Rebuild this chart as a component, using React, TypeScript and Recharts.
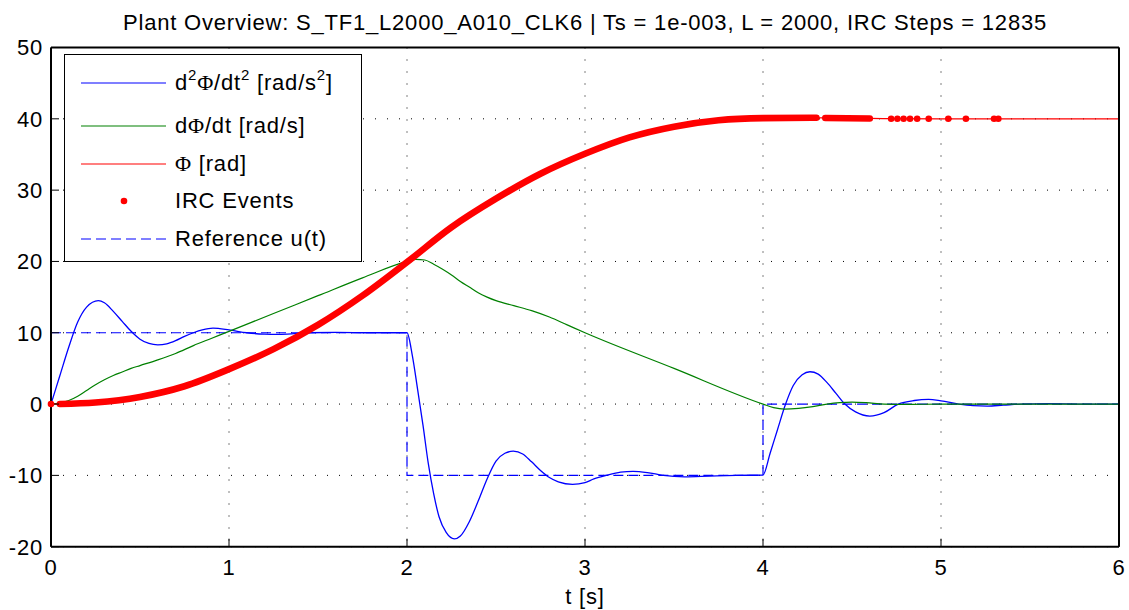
import React from "react";
import {
  ComposedChart,
  Line,
  Scatter,
  XAxis,
  YAxis,
  CartesianGrid,
  Legend,
} from "recharts";

// plant response, values
const accT = [0, 0.05, 0.1, 0.15, 0.2, 0.266, 0.3, 0.35, 0.4, 0.45, 0.5, 0.55, 0.6, 0.65, 0.7, 0.75, 0.8, 0.85, 0.91, 1.0, 1.1, 1.2, 1.27, 1.35, 1.45, 1.6, 1.8, 2.0, 2.03, 2.06, 2.09, 2.12, 2.15, 2.18, 2.22, 2.266, 2.3, 2.35, 2.4, 2.45, 2.5, 2.55, 2.597, 2.65, 2.7, 2.75, 2.8, 2.85, 2.93, 3.0, 3.05, 3.12, 3.2, 3.27, 3.35, 3.44, 3.56, 3.7, 3.85, 4.0, 4.04, 4.08, 4.127, 4.17, 4.22, 4.264, 4.31, 4.36, 4.41, 4.46, 4.52, 4.6, 4.68, 4.76, 4.85, 4.93, 5.0, 5.1, 5.18, 5.26, 5.35, 5.45, 5.6, 5.8, 6.0];
const accV = [0, 4.0, 8.0, 11.5, 13.6, 14.5, 14.2, 13.0, 11.6, 10.2, 9.1, 8.5, 8.3, 8.45, 8.9, 9.5, 10.0, 10.4, 10.64, 10.4, 10.0, 9.8, 9.76, 9.85, 10.0, 10.05, 10.0, 10.0, 6.8, 2.0, -3.0, -8.4, -12.6, -15.8, -18.0, -18.9, -18.5, -16.5, -13.6, -10.5, -8.0, -6.9, -6.6, -7.0, -8.1, -9.3, -10.3, -10.9, -11.25, -11.0, -10.5, -10.0, -9.55, -9.43, -9.6, -10.0, -10.2, -10.1, -10.0, -9.95, -6.9, -3.7, 0, 2.6, 4.1, 4.53, 4.2, 3.0, 1.5, 0, -1.1, -1.68, -1.2, 0, 0.5, 0.65, 0.45, 0, -0.22, -0.28, -0.15, 0, 0.05, 0, 0];

const velT = [0, 0.05, 0.1, 0.15, 0.2, 0.25, 0.3, 0.35, 0.4, 0.45, 0.5, 0.6, 0.7, 0.8, 0.9, 1.0, 1.25, 1.5, 1.75, 2.0, 2.05, 2.1, 2.15, 2.2, 2.25, 2.3, 2.35, 2.4, 2.45, 2.5, 2.6, 2.7, 2.8, 2.9, 3.0, 3.5, 4.0, 4.06, 4.12, 4.2, 4.28, 4.36, 4.43, 4.5, 4.58, 4.68, 4.8, 5.0, 6.0];
const velV = [0, 0.15, 0.5, 1.1, 1.9, 2.7, 3.4, 4.0, 4.5, 5.0, 5.4, 6.2, 7.1, 8.2, 9.2, 10.2, 12.7, 15.2, 17.7, 20.0, 20.3, 20.2, 19.6, 18.9, 18.1, 17.2, 16.4, 15.6, 15.0, 14.5, 13.8, 13.1, 12.2, 11.1, 10.0, 5.0, 0, -0.5, -0.7, -0.6, -0.35, 0, 0.2, 0.28, 0.2, 0, -0.05, 0, 0];

const phiT = [0, 0.05, 0.25, 0.5, 0.75, 1.0, 1.25, 1.5, 1.75, 2.0, 2.25, 2.5, 2.75, 3.0, 3.25, 3.5, 3.75, 4.0, 4.3, 4.35, 4.6, 5.0, 6.0];
const phiV = [0, 0.01, 0.22, 1.0, 2.5, 4.9, 7.7, 11.1, 15.2, 19.9, 24.8, 28.8, 32.3, 35.1, 37.4, 38.9, 39.8, 40.1, 40.15, 40.12, 40.05, 40.0, 40.0];

// time windows where IRC events are so dense they merge into a band
const ircDense = [
  [0.05, 4.3],
  [4.35, 4.6],
];
// isolated IRC events
const ircT = [0, 4.72, 4.755, 4.79, 4.826, 4.866, 4.931, 5.041, 5.14, 5.298, 5.322];
const ircV = [0, 40, 40, 40, 40, 40, 40, 40, 40, 40, 40];

const refT = [0, 2, 2, 4, 4, 6];
const refV = [10, 10, -10, -10, 0, 0];

const xTicks = [0, 1, 2, 3, 4, 5, 6];
const yTicks = [-20, -10, 0, 10, 20, 30, 40, 50];

const title =
  "Plant Overview: S_TF1_L2000_A010_CLK6 | Ts = 1e-003, L = 2000, IRC Steps = 12835";

const zip = (ts: number[], vs: number[], key: string) =>
  ts.map((t, i) => ({ t, [key]: vs[i] }));

const accData = zip(accT, accV, "acc");
const velData = zip(velT, velV, "vel");
const phiData = zip(phiT, phiV, "phi");
const bandData = ircDense.map(([a, b]) =>
  zip(phiT, phiV, "band").filter((d) => d.t >= a && d.t <= b)
);
const ircData = zip(ircT, ircV, "irc");
const refData = zip(refT, refV, "ref");

const FONT = '"Liberation Sans", Arial, Helvetica, sans-serif';
const SERIF = '"Liberation Serif", "Times New Roman", serif';
const FS = 22;
const LS = 0.8;

const Phi = () => <span style={{ fontFamily: SERIF }}>Φ</span>;
const Sup = ({ children }: { children: React.ReactNode }) => (
  <span style={{ fontSize: 15, position: "relative", top: -10 }}>{children}</span>
);

const legendRows = [
  { top: 28, color: "#0000ff", kind: "solid", label: <>d<Sup>2</Sup><Phi />/dt<Sup>2</Sup> [rad/s<Sup>2</Sup>]</> },
  { top: 71, color: "#008000", kind: "solid", label: <>d<Phi />/dt [rad/s]</> },
  { top: 109, color: "#ff0000", kind: "solid", label: <><Phi /> [rad]</> },
  { top: 146, color: "#ff0000", kind: "dot", label: <>IRC Events</> },
  { top: 184, color: "#0000ff", kind: "dash", label: <>Reference u(t)</> },
];

const LegendBox = () => (
  <div
    style={{
      position: "relative",
      width: 298,
      height: 208,
      boxSizing: "border-box",
      border: "1.5px solid #000",
      background: "#fff",
      fontFamily: FONT,
      fontSize: FS,
      letterSpacing: LS,
      color: "#000",
    }}
  >
    {legendRows.map((r, i) => (
      <div key={i} style={{ position: "absolute", left: 0, top: r.top - 14, height: 28, width: "100%" }}>
        <svg width={110} height={28} style={{ position: "absolute", left: 0, top: 0 }}>
          {r.kind === "dot" ? (
            <circle cx={59} cy={14} r={3.3} fill={r.color} />
          ) : (
            <line
              x1={16}
              x2={101}
              y1={14}
              y2={14}
              stroke={r.color}
              strokeWidth={1.2}
              strokeDasharray={r.kind === "dash" ? "10 5" : undefined}
            />
          )}
        </svg>
        <div style={{ position: "absolute", left: 110, top: 0, lineHeight: "28px", whiteSpace: "nowrap" }}>
          {r.label}
        </div>
      </div>
    ))}
  </div>
);

const tickStyle = { fill: "#000", fontSize: FS, fontFamily: FONT, letterSpacing: LS };

export default function App() {
  return (
    <div
      style={{
        position: "absolute",
        left: 0,
        top: 0,
        width: 1129,
        height: 610,
        background: "#fff",
        fontFamily: FONT,
      }}
    >
      <div
        style={{
          position: "absolute",
          left: 51,
          width: 1068,
          top: 9.5,
          lineHeight: "26px",
          fontSize: FS,
          letterSpacing: LS,
          textAlign: "center",
          color: "#000",
          whiteSpace: "nowrap",
          zIndex: 2,
        }}
      >
        {title}
      </div>
      <ComposedChart
        width={1129}
        height={610}
        margin={{ top: 17.5, right: 0, bottom: 0, left: 0 }}
      >
        <CartesianGrid stroke="#000" strokeDasharray="1 11" strokeWidth={1} />
        <XAxis
          xAxisId={0}
          dataKey="t"
          type="number"
          domain={[0, 6]}
          ticks={xTicks}
          height={63.3}
          axisLine={{ stroke: "#000", strokeWidth: 2 }}
          tickLine={{ stroke: "#000", strokeWidth: 1 }}
          tickSize={-8}
          tickMargin={21}
          tick={tickStyle}
          label={{ value: "t [s]", position: "insideBottom", offset: 6, fill: "#000", fontSize: FS, fontFamily: FONT, letterSpacing: LS }}
        />
        <XAxis
          xAxisId="top"
          orientation="top"
          dataKey="t"
          type="number"
          domain={[0, 6]}
          ticks={xTicks}
          height={30}
          axisLine={{ stroke: "#000", strokeWidth: 2 }}
          tickLine={{ stroke: "#000", strokeWidth: 1 }}
          tickSize={-8}
          tick={false}
        />
        <YAxis
          yAxisId={0}
          type="number"
          domain={[-20, 50]}
          ticks={yTicks}
          width={51}
          axisLine={{ stroke: "#000", strokeWidth: 2 }}
          tickLine={{ stroke: "#000", strokeWidth: 1 }}
          tickSize={-8}
          tickMargin={16}
          tick={tickStyle}
        />
        <YAxis
          yAxisId="right"
          orientation="right"
          type="number"
          domain={[-20, 50]}
          ticks={yTicks}
          width={10}
          axisLine={{ stroke: "#000", strokeWidth: 2 }}
          tickLine={{ stroke: "#000", strokeWidth: 1 }}
          tickSize={-8}
          tick={false}
        />
        <Line
          data={refData}
          dataKey="ref"
          type="linear"
          stroke="#0000ff"
          strokeWidth={1.2}
          strokeDasharray="10 5"
          dot={false}
          activeDot={false}
          isAnimationActive={false}
        />
        <Line
          data={accData}
          dataKey="acc"
          type="monotone"
          stroke="#0000ff"
          strokeWidth={1.3}
          dot={false}
          activeDot={false}
          isAnimationActive={false}
        />
        <Line
          data={velData}
          dataKey="vel"
          type="monotone"
          stroke="#008000"
          strokeWidth={1.2}
          dot={false}
          activeDot={false}
          isAnimationActive={false}
        />
        <Line
          data={phiData}
          dataKey="phi"
          type="monotone"
          stroke="#ff0000"
          strokeWidth={1.2}
          dot={false}
          activeDot={false}
          isAnimationActive={false}
        />
        {bandData.map((d, i) => (
          <Line
            key={"band" + i}
            data={d}
            dataKey="band"
            type="monotone"
            stroke="#ff0000"
            strokeWidth={6.6}
            strokeLinecap="round"
            dot={false}
            activeDot={false}
            isAnimationActive={false}
          />
        ))}
        <Scatter
          data={ircData}
          dataKey="irc"
          fill="#ff0000"
          isAnimationActive={false}
          shape={(p: any) => <circle cx={p.cx} cy={p.cy} r={3.3} fill="#ff0000" />}
        />
        <Legend
          layout="horizontal"
          verticalAlign="middle"
          align="center"
          content={() => <LegendBox />}
          wrapperStyle={{ left: 64, top: 54, width: 298, height: 208 }}
        />
      </ComposedChart>
    </div>
  );
}
